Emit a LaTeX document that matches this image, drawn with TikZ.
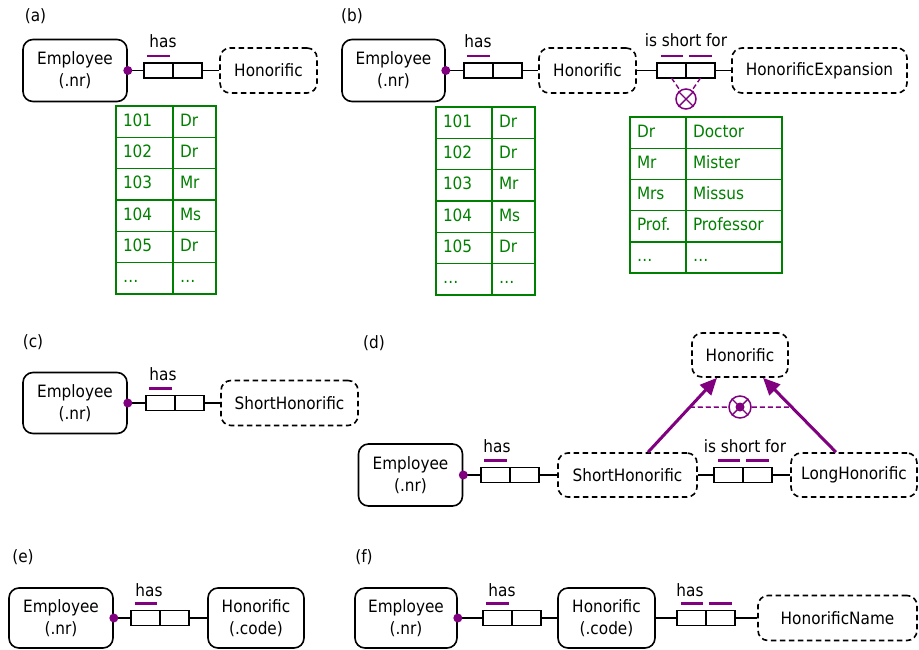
\documentclass[tikz,border=0pt]{standalone}
\usepackage{fontspec}
\setmainfont{DejaVu Sans}[FakeStretch=0.9]
\usetikzlibrary{arrows.meta,calc}
\definecolor{ormpurple}{RGB}{128,0,128}
\definecolor{ormgreen}{RGB}{0,128,0}
\tikzset{
  entity/.style={draw, line width=1.6pt, rounded corners=10pt, minimum width=104pt,
    minimum height=62pt, align=center, inner sep=0pt},
  valuetype/.style={entity, dash pattern=on 5.5pt off 3.5pt, minimum height=45pt},
  rolebox/.style={draw, line width=1.8pt, minimum width=29pt, minimum height=15pt,
    inner sep=0pt, outer sep=0pt},
  conn/.style={line width=1.6pt},
  uniq/.style={ormpurple, line width=2.5pt},
  rolename/.style={anchor=base, inner sep=0pt},
  cell/.style={draw=ormgreen, text=ormgreen, line width=1.4pt, anchor=north west, outer sep=0pt,
    minimum height=31.3pt, inner xsep=7pt, align=left, text height=12pt, text depth=3pt},
  sublabel/.style={inner sep=0pt},
  xorc/.style={circle, draw=ormpurple, line width=1.5pt, minimum size=#1, inner sep=0pt},
  xorline/.style={ormpurple, line width=1.4pt, dash pattern=on 5pt off 3pt},
  subtype/.style={ormpurple, line width=3pt, -{Triangle[length=17pt,width=15pt]}},
}
\begin{document}
\begin{tikzpicture}[x=1pt,y=-1pt,font=\fontsize{17}{22}\selectfont]
  \useasboundingbox (0,0) rectangle (919,649);

  % (a)
  \node[sublabel] (labA) at (35.5,16) {(a)};
  \node[entity] (empA) at (75,70.5) {Employee\\(.nr)};
  \node[rolebox] (rA1) at (158.5,70.5) {};
  \node[rolebox, anchor=west] (rA2) at (rA1.east) {};
  \node[valuetype, minimum width=97pt] (honA) at (268.5,70.5) {Honorific};
  \draw[conn] (empA.east) -- (rA1.west);
  \draw[conn] (rA2.east) -- (honA.west);
  \fill[ormpurple] (empA.east) circle (4.5pt);
  \draw[uniq] ([shift={(3,-7)}]rA1.north west) -- ([shift={(-3,-7)}]rA1.north east);
  \node[rolename] (hasA) at (163,47) {has};
  \foreach \n/\h [count=\i from 0] in {101/Dr,102/Dr,103/Mr,104/Ms,105/Dr,\dots/\dots} {
    \node[cell, text width=43pt] (taL\i) at (116,106+31.3*\i) {\n};
    \node[cell, text width=29pt] (taR\i) at (taL\i.north east) {\h};
  }

  % (b)
  \node[sublabel] (labB) at (352,16) {(b)};
  \node[entity, minimum width=103pt] (empB) at (393.5,70.5) {Employee\\(.nr)};
  \node[rolebox] (rB1) at (478.5,70.5) {};
  \node[rolebox, anchor=west] (rB2) at (rB1.east) {};
  \node[valuetype, minimum width=97pt] (honB) at (587.5,70.5) {Honorific};
  \node[rolebox] (rB3) at (671.5,70.5) {};
  \node[rolebox, anchor=west] (rB4) at (rB3.east) {};
  \node[valuetype, minimum width=175pt] (expB) at (819.5,70.5) {HonorificExpansion};
  \draw[conn] (empB.east) -- (rB1.west);
  \draw[conn] (rB2.east) -- (honB.west);
  \draw[conn] (honB.east) -- (rB3.west);
  \draw[conn] (rB4.east) -- (expB.west);
  \fill[ormpurple] (empB.east) circle (4.5pt);
  \draw[uniq] ([shift={(3,-7)}]rB1.north west) -- ([shift={(-3,-7)}]rB1.north east);
  \draw[uniq] ([shift={(4,-7)}]rB3.north west) -- ([shift={(-3,-7)}]rB3.north east);
  \draw[uniq] ([shift={(3,-7)}]rB4.north west) -- ([shift={(-3,-7)}]rB4.north east);
  \node[rolename] (hasB) at (478,47) {has};
  \node[rolename] (shortB) at (686,46) {is short for};
  \node[xorc=20pt] (xorB) at (686,99) {};
  \draw[ormpurple, line width=1.4pt] (xorB.north west) -- (xorB.south east)
    (xorB.north east) -- (xorB.south west);
  \draw[xorline] (rB3.south) -- (xorB);
  \draw[xorline] (rB4.south) -- (xorB);
  \foreach \n/\h [count=\i from 0] in {101/Dr,102/Dr,103/Mr,104/Ms,105/Dr,\dots/\dots} {
    \node[cell, text width=42pt] (tbL\i) at (436,107+31.3*\i) {\n};
    \node[cell, text width=29pt] (tbR\i) at (tbL\i.north east) {\h};
  }
  \foreach \s/\l [count=\i from 0] in {Dr/Doctor,Mr/Mister,Mrs/Missus,Prof./Professor,\dots/\dots} {
    \node[cell, minimum height=31.2pt, text width=42pt] (tcL\i) at (630,117+31.2*\i) {\s};
    \node[cell, minimum height=31.2pt, text width=82pt] (tcR\i) at (tcL\i.north east) {\l};
  }

  % (c)
  \node[sublabel] (labC) at (33,342) {(c)};
  \node[entity, minimum height=61pt] (empC) at (75,403) {Employee\\(.nr)};
  \node[rolebox] (rC1) at (160.5,403) {};
  \node[rolebox, anchor=west] (rC2) at (rC1.east) {};
  \node[valuetype, minimum width=137pt] (shC) at (289.5,403) {ShortHonorific};
  \draw[conn] (empC.east) -- (rC1.west);
  \draw[conn] (rC2.east) -- (shC.west);
  \fill[ormpurple] (empC.east) circle (4.5pt);
  \draw[uniq] ([shift={(3,-7)}]rC1.north west) -- ([shift={(-3,-7)}]rC1.north east);
  \node[rolename] (hasC) at (163,380) {has};

  % (d)
  \node[sublabel] (labD) at (374,343) {(d)};
  \node[entity] (empD) at (410.5,475) {Employee\\(.nr)};
  \node[rolebox] (rD1) at (495.5,475) {};
  \node[rolebox, anchor=west] (rD2) at (rD1.east) {};
  \node[valuetype, minimum width=139pt, minimum height=44pt] (shD) at (627.5,475) {ShortHonorific};
  \node[rolebox] (rD3) at (728.5,475) {};
  \node[rolebox, anchor=west] (rD4) at (rD3.east) {};
  \node[valuetype, minimum width=126pt, minimum height=44pt] (lgD) at (854,475) {LongHonorific};
  \node[valuetype, minimum width=96pt, minimum height=44pt] (honD) at (740,355) {Honorific};
  \draw[conn] (empD.east) -- (rD1.west);
  \draw[conn] (rD2.east) -- (shD.west);
  \draw[conn] (shD.east) -- (rD3.west);
  \draw[conn] (rD4.east) -- (lgD.west);
  \fill[ormpurple] (empD.east) circle (4.5pt);
  \draw[uniq] ([shift={(3,-7)}]rD1.north west) -- ([shift={(-3,-7)}]rD1.north east);
  \draw[uniq] ([shift={(4,-7)}]rD3.north west) -- ([shift={(-3,-7)}]rD3.north east);
  \draw[uniq] ([shift={(3,-7)}]rD4.north west) -- ([shift={(-3,-7)}]rD4.north east);
  \node[rolename] (hasD) at (497,452) {has};
  \node[rolename] (shortD) at (745,452) {is short for};
  \coordinate (sD1) at ($(shD.north)+(20.5,0)$);
  \coordinate (tD1) at ($(honD.south)+(-23,0)$);
  \coordinate (sD2) at ($(lgD.north)+(-18,0)$);
  \coordinate (tD2) at ($(honD.south)+(23,0)$);
  \draw[subtype] (sD1) -- (tD1);
  \draw[subtype] (sD2) -- (tD2);
  \coordinate (mD1) at ($(sD1)!0.605!(tD1)$);
  \coordinate (mD2) at ($(sD2)!0.605!(tD2)$);
  \node[xorc=22pt] (xorD) at (740,407) {};
  \draw[xorline] (mD1) -- (xorD) (xorD) -- (mD2);
  \draw[ormpurple, line width=1.4pt] (xorD.north west) -- (xorD.south east)
    (xorD.north east) -- (xorD.south west);
  \fill[ormpurple] (xorD) circle (4.5pt);

  % (e)
  \node[sublabel] (labE) at (23,557) {(e)};
  \node[entity, minimum height=60pt] (empE) at (61,618) {Employee\\(.nr)};
  \node[rolebox] (rE1) at (145.5,618) {};
  \node[rolebox, anchor=west] (rE2) at (rE1.east) {};
  \node[entity, minimum width=96pt, minimum height=60pt] (honE) at (256,618) {Honorific\\(.code)};
  \draw[conn] (empE.east) -- (rE1.west);
  \draw[conn] (rE2.east) -- (honE.west);
  \fill[ormpurple] (empE.east) circle (4.5pt);
  \draw[uniq] ([shift={(4,-7)}]rE1.north west) -- ([shift={(-3,-7)}]rE1.north east);
  \node[rolename] (hasE) at (149,596) {has};

  % (f)
  \node[sublabel] (labF) at (364,557) {(f)};
  \node[entity, minimum width=102pt, minimum height=60pt] (empF) at (406,618) {Employee\\(.nr)};
  \node[rolebox] (rF1) at (497.5,618) {};
  \node[rolebox, anchor=west] (rF2) at (rF1.east) {};
  \node[entity, minimum width=97pt, minimum height=60pt] (honF) at (606.5,618) {Honorific\\(.code)};
  \node[rolebox] (rF3) at (691.5,618) {};
  \node[rolebox, anchor=west] (rF4) at (rF3.east) {};
  \node[valuetype, minimum width=159pt] (nameF) at (837.5,618) {HonorificName};
  \draw[conn] (empF.east) -- (rF1.west);
  \draw[conn] (rF2.east) -- (honF.west);
  \draw[conn] (honF.east) -- (rF3.west);
  \draw[conn] (rF4.east) -- (nameF.west);
  \fill[ormpurple] (empF.east) circle (4.5pt);
  \draw[uniq] ([shift={(3,-7)}]rF1.north west) -- ([shift={(-3,-7)}]rF1.north east);
  \draw[uniq] ([shift={(4,-7)}]rF3.north west) -- ([shift={(-3,-7)}]rF3.north east);
  \draw[uniq] ([shift={(3,-7)}]rF4.north west) -- ([shift={(-3,-7)}]rF4.north east);
  \node[rolename] (hasF1) at (502,596) {has};
  \node[rolename] (hasF2) at (690,596) {has};
\end{tikzpicture}
\end{document}
